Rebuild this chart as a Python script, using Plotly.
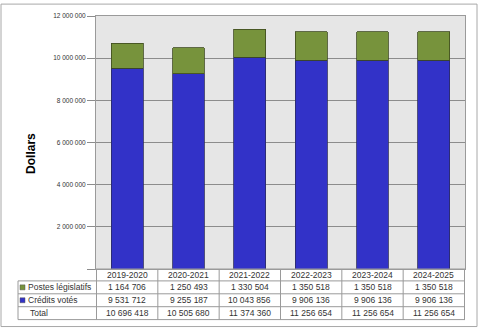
import plotly.graph_objects as go

# Fiscal years and spending by authority (dollars)
years = ["2019-2020", "2020-2021", "2021-2022", "2022-2023", "2023-2024", "2024-2025"]
postes_legislatifs = [1164706, 1250493, 1330504, 1350518, 1350518, 1350518]
credits_votes = [9531712, 9255187, 10043856, 9906136, 9906136, 9906136]
totals = [a + b for a, b in zip(postes_legislatifs, credits_votes)]
y_ticks = [0, 2000000, 4000000, 6000000, 8000000, 10000000, 12000000]

BLUE = "#3232c8"
GREEN = "#77933c"
GRID = "#8c8c8c"
LINE = "#9a9a9a"
TEXT = "#333333"

W, H = 480, 329
L, R, T, B = 96, 15, 14, 60
PW, PH = W - L - R, H - T - B


def xp(px):
    return (px - L) / PW


def yp(py):
    return (H - B - py) / PH


def fmt(v):
    return f"{v:,}".replace(",", " ")


fig = go.Figure()
fig.add_trace(go.Bar(x=years, y=credits_votes, name="Crédits votés",
                     marker=dict(color=BLUE, line=dict(color="#2a2a60", width=0.8))))
fig.add_trace(go.Bar(x=years, y=postes_legislatifs, name="Postes législatifs",
                     marker=dict(color=GREEN, line=dict(color="#3d4a1e", width=0.8))))

shapes = []
# outer frame
shapes.append(dict(type="rect", xref="paper", yref="paper",
                   x0=xp(1), x1=xp(477), y0=yp(327), y1=yp(2),
                   line=dict(color="#a8a8a8", width=1), layer="below"))

# data table grid
row_lines = [269, 281, 294, 307, 320]
for i, yy in enumerate(row_lines):
    x_start = xp(96) if i == 0 else xp(18)
    shapes.append(dict(type="line", xref="paper", yref="paper",
                       x0=x_start, x1=xp(465), y0=yp(yy), y1=yp(yy),
                       line=dict(color=LINE, width=1)))
shapes.append(dict(type="line", xref="paper", yref="paper",
                   x0=xp(18), x1=xp(18), y0=yp(281), y1=yp(320),
                   line=dict(color=LINE, width=1)))
for k in range(len(years) + 1):
    shapes.append(dict(type="line", xref="x", yref="paper",
                       x0=k - 0.5, x1=k - 0.5, y0=yp(269), y1=yp(320),
                       line=dict(color=LINE, width=1)))
# legend keys in the row headers
shapes.append(dict(type="rect", xref="paper", yref="paper",
                   x0=xp(20), x1=xp(25), y0=yp(290), y1=yp(285),
                   fillcolor=GREEN, line=dict(color="#555555", width=0.5)))
shapes.append(dict(type="rect", xref="paper", yref="paper",
                   x0=xp(20), x1=xp(25), y0=yp(303), y1=yp(298),
                   fillcolor=BLUE, line=dict(color="#555555", width=0.5)))

annotations = []
cell_font = dict(family="Liberation Sans, Arial, sans-serif", size=8.5, color=TEXT)
row_y = [275, 287.5, 300.5, 313.5]
for j, yr in enumerate(years):
    annotations.append(dict(x=yr, xref="x", y=yp(row_y[0]), yref="paper",
                            text=yr, showarrow=False, font=cell_font,
                            xanchor="center", yanchor="middle"))
    for r, series in enumerate([postes_legislatifs, credits_votes, totals]):
        annotations.append(dict(x=yr, xref="x", y=yp(row_y[r + 1]), yref="paper",
                                text=fmt(series[j]), showarrow=False, font=cell_font,
                                xanchor="center", yanchor="middle"))
row_labels = [("Postes législatifs", 26), ("Crédits votés", 26), ("Total", 28)]
for r, (lab, px) in enumerate(row_labels):
    annotations.append(dict(x=xp(px), xref="paper", y=yp(row_y[r + 1]), yref="paper",
                            text=lab, showarrow=False, font=cell_font,
                            xanchor="left", yanchor="middle"))
annotations.append(dict(x=xp(31), xref="paper", y=yp(153), yref="paper",
                        text="<b>Dollars</b>", textangle=-90, showarrow=False,
                        font=dict(family="Liberation Sans, Arial, sans-serif",
                                  size=12, color="#000000"),
                        xanchor="center", yanchor="middle"))

fig.update_layout(
    width=W, height=H,
    margin=dict(l=L, r=R, t=T, b=B),
    barmode="stack",
    bargap=0.48,
    showlegend=False,
    paper_bgcolor="white",
    plot_bgcolor="#e6e6e6",
    separators=", ",
    shapes=shapes,
    annotations=annotations,
    font=dict(family="Liberation Sans, Arial, sans-serif", color=TEXT),
)
fig.update_xaxes(showticklabels=False, showgrid=False, ticks="",
                 showline=True, linecolor=LINE, mirror=True)
fig.update_yaxes(range=[0, 12000000], tickvals=y_ticks,
                 ticktext=["" if v == 0 else fmt(v) for v in y_ticks],
                 showgrid=True, gridcolor=GRID, gridwidth=1,
                 ticks="outside", ticklen=8, tickcolor=GRID,
                 tickfont=dict(size=6.5, color="#333333"),
                 showline=True, linecolor=LINE, mirror=True, zeroline=False)

fig.write_html("out.html")
